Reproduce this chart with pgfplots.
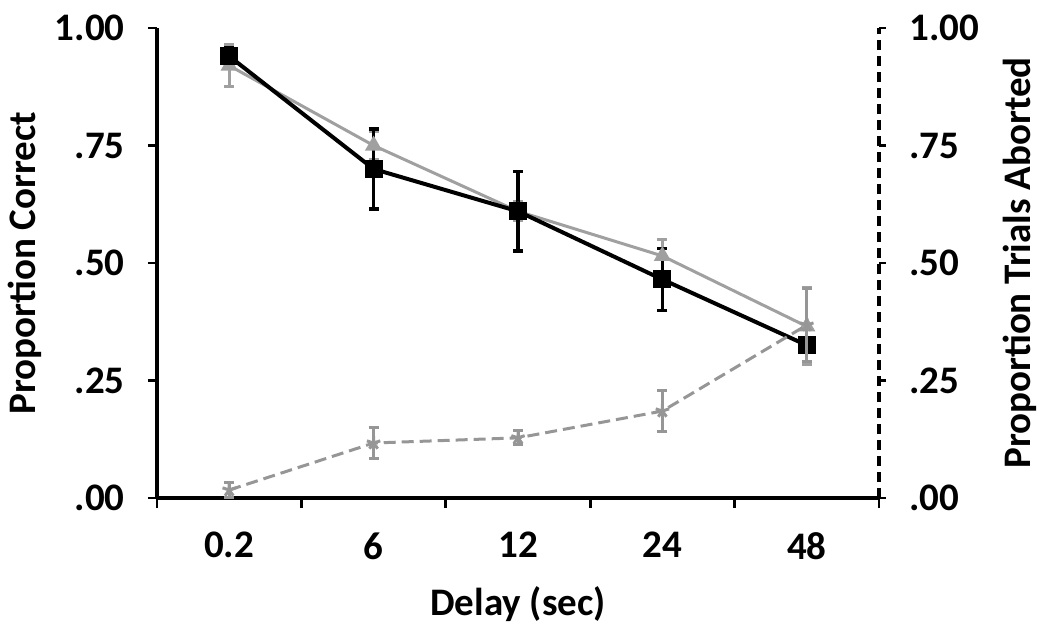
\documentclass[border=0pt]{standalone}
\usepackage{fontspec}
\setmainfont{Carlito}
\usepackage{pgfplots}
\pgfplotsset{compat=1.18}
\definecolor{lgray}{RGB}{160,160,160}
\definecolor{dgray}{RGB}{150,150,150}
\begin{document}
\begin{tikzpicture}
\fontsize{19.5}{23}\selectfont\bfseries
\useasboundingbox (-78.5pt,-65pt) rectangle (446.5pt,249pt);
\pgfplotsset{
  common/.style={
    at={(0,0)}, anchor=south west,
    scale only axis, width=361pt, height=235pt,
    xmin=-0.5, xmax=4.5, ymin=0, ymax=1,
    ytick={0,0.25,0.5,0.75,1},
    yticklabels={.00,.25,.50,.75,1.00},
    tick align=outside,
    major tick length=4.5pt,
    every tick/.style={black, line width=1.4pt},
    axis line style={line width=1.9pt},
    tick label style={font=\fontsize{19.5}{23}\selectfont\bfseries},
    label style={font=\fontsize{19.5}{23}\selectfont\bfseries},
    clip=false,
  }
}
\begin{axis}[common,
  axis x line*=bottom, axis y line*=left,
  xtick={0,1,2,3,4},
  xticklabels={0.2,6,12,24,48},
  minor xtick={-0.5,0.5,1.5,2.5,3.5,4.5},
  minor tick length=5pt,
  xtick style={draw=none},
  minor x tick style={black, line width=1.4pt, draw=black},
  xticklabel style={yshift=-6pt},
  yticklabel style={xshift=-5pt},
  xlabel={Delay (sec)},
  xlabel style={at={(axis description cs:0.5,-0.225)}, anchor=center},
  ylabel={Proportion Correct},
  ylabel style={at={(axis description cs:-0.1828,0.5)}, anchor=center},
]
\addplot[lgray, line width=1.5pt, mark=triangle*, mark size=3.5pt,
  mark options={solid, fill=lgray},
  error bars/.cd, y dir=both, y explicit,
  error bar style={lgray, line width=1.5pt}, error mark options={rotate=90, mark size=2.5pt, line width=1.5pt, lgray}]
  coordinates {
  (0,0.92) +- (0,0.045)
  (1,0.75) +- (0,0.03)
  (2,0.61) +- (0,0.02)
  (3,0.515) +- (0,0.035)
  (4,0.365) +- (0,0.082)
  };
\addplot[black, line width=2pt, mark=square*, mark size=3.5pt,
  mark options={solid, fill=black},
  error bars/.cd, y dir=both, y explicit,
  error bar style={black, line width=1.8pt}, error mark options={rotate=90, mark size=2.5pt, line width=1.8pt, black}]
  coordinates {
  (0,0.94) +- (0,0.017)
  (1,0.70) +- (0,0.085)
  (2,0.61) +- (0,0.085)
  (3,0.465) +- (0,0.066)
  (4,0.325) +- (0,0.015)
  };
\end{axis}
\begin{axis}[common,
  axis x line=none, axis y line*=right,
  y axis line style={dashed, dash pattern=on 5pt off 3pt, line width=1.7pt},
  major tick length=3.5pt,
  yticklabel style={xshift=5pt},
  ylabel={Proportion Trials Aborted},
  ylabel style={at={(axis description cs:1.195,0.5)}, anchor=center, rotate=0},
]
\addplot[dgray, line width=1.5pt, dashed, dash pattern=on 6pt off 3pt, mark=star, mark size=3.5pt,
  mark options={solid, line width=1.5pt},
  error bars/.cd, y dir=both, y explicit,
  error bar style={dgray, solid, line width=1.5pt}, error mark options={rotate=90, mark size=2.5pt, line width=1.5pt, dgray, solid}]
  coordinates {
  (0,0.017) +- (0,0.015)
  (1,0.117) +- (0,0.033)
  (2,0.128) +- (0,0.015)
  (3,0.185) +- (0,0.043)
  (4,0.368) +- (0,0.078)
  };
\end{axis}
\end{tikzpicture}
\end{document}
